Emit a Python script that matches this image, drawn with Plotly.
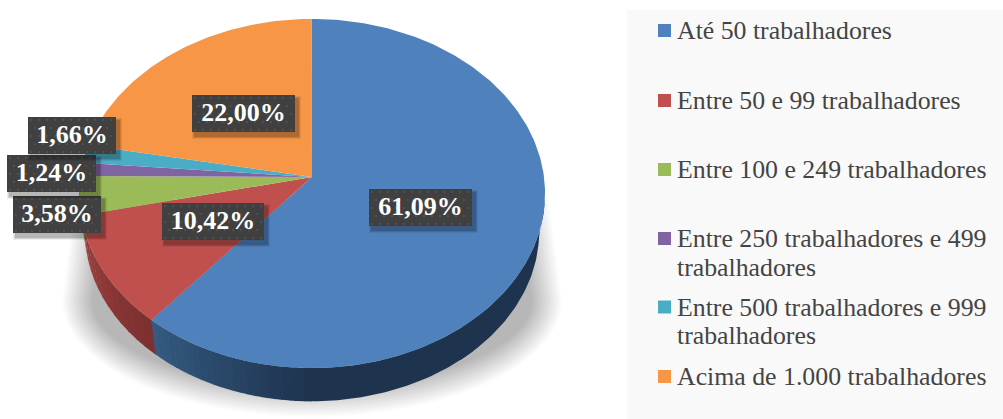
import math

import plotly.graph_objects as go

categories = ["Até 50 trabalhadores", "Entre 50 e 99 trabalhadores", "Entre 100 e 249 trabalhadores",
              "Entre 250 trabalhadores e 499<br>trabalhadores", "Entre 500 trabalhadores e 999<br>trabalhadores",
              "Acima de 1.000 trabalhadores"]
shares = [61.09, 10.42, 3.58, 1.24, 1.66, 22.00]
colors = ["#4f81bd", "#c0504d", "#9bbb59", "#8064a2", "#4bacc6", "#f79646"]

# label box left/top, legend square centre
box_pos = [(369, 189), (162, 203), (13, 196), (7, 155), (28, 117), (192, 95)]
box_size = [(103, 37), (102, 37), (88, 37), (89, 37), (88, 37), (103, 37)]
legend_y = [30.5, 100.5, 169.5, 238.5, 307, 376.5]

# pie is a tilted disc: circle pushed through a small perspective
CX, CY = 312, 177
AX, AY, K = 232, 173, 0.0946
DEPTH, SHRINK = 38, 0.975

fig = go.Figure()


def add_poly(xs, ys, color):
    fig.add_trace(go.Scatter(x=xs, y=ys, mode="lines", fill="toself", fillcolor=color,
                             line=dict(width=0, color=color), hoverinfo="skip", showlegend=False))


def project(pct, lower=False):
    # pct is clockwise from twelve o'clock, in percent of the pie
    a = pct / 100 * 2 * math.pi
    d = 1 + K * math.cos(a)
    x = AX * math.sin(a) / d
    y = -AY * math.cos(a) / d
    if lower:
        return CX + x * SHRINK, CY + DEPTH + y * SHRINK
    return CX + x, CY + y


def arc(p0, p1, lower=False, step=0.25):
    n = max(2, int(abs(p1 - p0) / step))
    pts = [project(p0 + (p1 - p0) * i / n, lower) for i in range(n + 1)]
    return [p[0] for p in pts], [p[1] for p in pts]


def mix(c0, c1, t):
    t = max(0, min(1, t))
    rgb = [round(c0[i] + (c1[i] - c0[i]) * t) for i in range(3)]
    return "rgb(%d,%d,%d)" % tuple(rgb)


# soft shadow under the disc
for i in range(24):
    inset = i * 1.3
    xs, ys = [], []
    for j in range(61):
        a = math.pi * j / 60
        xs.append(312 + (250 - inset) * math.cos(a))
        ys.append(300 + (117 - inset) * math.sin(a))
    xs += [312 - 237 + inset, 312 + 237 - inset]
    ys += [200, 200]
    add_poly(xs, ys, "rgba(0,0,0,0.013)")

# rim, only the blue and red slices show it
blue_end = shares[0]
red_end = shares[0] + shares[1]
green_end = red_end + shares[2]


def rim(p0, p1, c0, c1, n):
    for i in range(n):
        a, b = p0 + (p1 - p0) * i / n, p0 + (p1 - p0) * (i + 1.1) / n
        tx, ty = arc(a, b)
        lx, ly = arc(b, a, lower=True)
        add_poly(tx + lx, ty + ly, mix(c0, c1, i / (n - 1)))


rim(27, 50, (30, 51, 78), (30, 51, 78), 2)
rim(50, blue_end, (30, 51, 78), (52, 90, 128), 24)
rim(blue_end, red_end, (125, 48, 48), (155, 64, 62), 12)
rim(red_end, green_end, (120, 145, 68), (120, 145, 68), 2)

# top face
start = 0
for share, color in zip(shares, colors):
    xs, ys = arc(start, start + share)
    add_poly([CX] + xs + [CX], [CY] + ys + [CY], color)
    start += share

# legend panel
add_poly([627, 1003, 1003, 627], [10, 10, 419, 419], "#f9f9f9")
fig.add_trace(go.Scatter(x=[664.5] * 6, y=legend_y, mode="markers", hoverinfo="skip", showlegend=False,
                         marker=dict(symbol="square", size=13, color=colors, line=dict(width=0))))
for cat, y in zip(categories, legend_y):
    # wrapped entries are separate lines, the line gap is tighter than plotly's
    for n, line in enumerate(cat.split("<br>")):
        fig.add_annotation(x=676, y=y + n * 28.5, text=line, showarrow=False, xanchor="left", yanchor="middle",
                           xref="x", yref="y", borderpad=0,
                           font=dict(family="Liberation Serif", size=25.8, color="#444444"))

# data labels: dark dotted boxes with a shadow
for (x, y), (w, h) in zip(box_pos, box_size):
    for s, alpha in [(6, 0.07), (4, 0.1), (2, 0.14)]:
        add_poly([x + 3 - s / 2, x + w + 3 + s / 2, x + w + 3 + s / 2, x + 3 - s / 2],
                 [y + 4 - s / 2, y + 4 - s / 2, y + h + 4 + s / 2, y + h + 4 + s / 2],
                 "rgba(0,0,0,%g)" % alpha)
    add_poly([x, x + w, x + w, x], [y, y, y + h, y + h], "#404040")
    dx, dy = [], []
    for row in range(5):
        for col in range(14):
            px = x + 3 + col * 8 + (row % 2) * 4
            py = y + 3 + row * 8
            if px < x + w - 1:
                dx.append(px)
                dy.append(py)
    fig.add_trace(go.Scatter(x=dx, y=dy, mode="markers", hoverinfo="skip", showlegend=False,
                             marker=dict(size=2, color="#555555", line=dict(width=0))))

fig.add_trace(go.Scatter(x=[p[0] + s[0] / 2 for p, s in zip(box_pos, box_size)],
                         y=[p[1] + s[1] / 2 + 1 for p, s in zip(box_pos, box_size)],
                         mode="text", hoverinfo="skip", showlegend=False,
                         text=[("%.2f%%" % v).replace(".", ",") for v in shares],
                         textposition="middle center",
                         textfont=dict(family="Liberation Serif", size=26, color="white", weight="bold")))

fig.update_layout(width=1003, height=419, margin=dict(l=0, r=0, t=0, b=0), showlegend=False,
                  paper_bgcolor="white", plot_bgcolor="white",
                  xaxis=dict(range=[0, 1003], visible=False, fixedrange=True),
                  yaxis=dict(range=[419, 0], visible=False, fixedrange=True))
# page body has a default 8px margin
fig.write_html("out.html", config=dict(displayModeBar=False),
               post_script="document.body.style.margin='0';document.body.style.overflow='hidden';")
